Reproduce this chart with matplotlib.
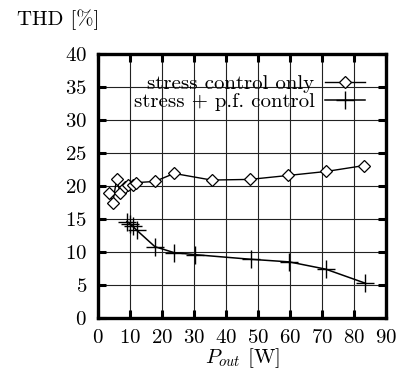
import matplotlib
matplotlib.use("Agg")
import matplotlib.pyplot as plt

plt.rcParams['font.family'] = ['cmr10', 'DejaVu Serif']
plt.rcParams['mathtext.fontset'] = 'cm'
plt.rcParams['axes.formatter.use_mathtext'] = True

# stress control only (diamonds)
p_stress = [3.4, 4.6, 5.8, 6.9, 8.4, 9.5, 10.8, 11.9, 17.8, 23.8, 35.5, 47.5, 59.5, 71.3, 83.2]
thd_stress = [18.9, 17.5, 21.0, 19.0, 19.9, 20.1, 20.2, 20.5, 20.7, 21.9, 20.9, 21.0, 21.6, 22.2, 23.1]

# stress + p.f. control (plus)
p_pf = [9.0, 10.0, 10.8, 12.1, 17.8, 23.8, 30.3, 47.7, 59.8, 71.2, 83.4]
thd_pf = [14.6, 14.3, 13.9, 13.3, 10.8, 9.9, 9.6, 8.9, 8.5, 7.4, 5.3]

xticks = [0, 10, 20, 30, 40, 50, 60, 70, 80, 90]
yticks = [0, 5, 10, 15, 20, 25, 30, 35, 40]

FS = 15

fig = plt.figure(figsize=(3.97, 3.75), dpi=100)
ax = fig.add_axes([0.247, 0.152, 0.725, 0.704])

ax.plot(p_stress, thd_stress, color='black', lw=1.0, marker='D', markersize=6,
        markerfacecolor='white', markeredgecolor='black', markeredgewidth=0.9,
        label='stress control only', zorder=3)
ax.plot(p_pf, thd_pf, color='black', lw=1.1, marker='+', markersize=13,
        markeredgewidth=1.0, label='stress + p.f. control', zorder=3)

ax.set_xlim(0, 90)
ax.set_ylim(0, 40)
ax.set_xticks(xticks)
ax.set_yticks(yticks)
ax.grid(True, color='#222222', lw=0.8)
ax.set_axisbelow(True)
ax.tick_params(direction='in', length=6, width=2.2, top=True, right=True,
               labelsize=FS)
ax.tick_params(axis='x', pad=8)
ax.tick_params(axis='y', pad=8)
for s in ax.spines.values():
    s.set_linewidth(2.4)

ax.legend(loc='upper right', frameon=False, markerfirst=False, fontsize=FS,
          handlelength=1.9, borderaxespad=0.0, labelspacing=0.0,
          handletextpad=0.5, bbox_to_anchor=(0.955, 0.955))

ax.set_xlabel(r'$P_{out}$ [W]', fontsize=FS, labelpad=-1)
fig.text(0.043, 0.947, 'THD [%]', fontsize=FS, ha='left', va='center')

fig.savefig('out.png', dpi=100)
